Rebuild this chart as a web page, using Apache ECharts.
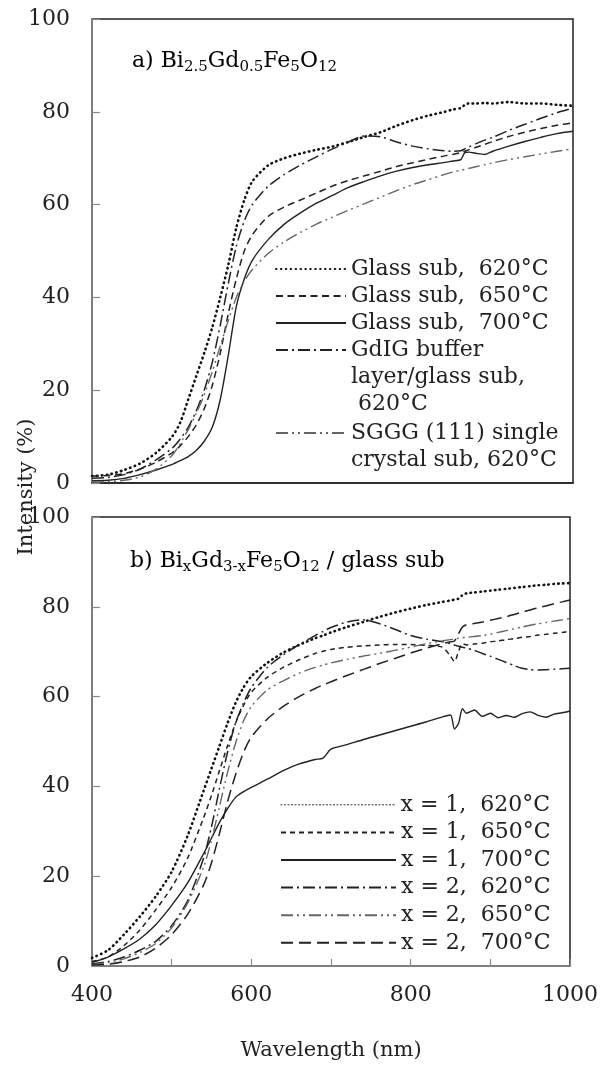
<!DOCTYPE html>
<html>
<head>
<meta charset="utf-8">
<script src="https://cdn.jsdelivr.net/npm/echarts@6/dist/echarts.min.js"></script>
<style>
html,body{margin:0;padding:0;background:#fff;}
#chart{width:601px;height:1071px;}
</style>
</head>
<body>
<div id="chart"></div>
<script>
// ---------- Data (panel a) ----------
const wlA = [400,420,440,460,480,500,510,520,530,540,550,560,570,580,590,600,620,640,660,680,700,720,740,760,780,800,820,840,850,860,865,870,880,890,900,920,940,960,980,1000];
const glass620 = [1.5,1.8,2.8,4.2,6.5,10,13,18,23,28,33.5,40,47,55,61,65,68.5,70,71,71.8,72.5,73.5,74.6,75.6,77,78.2,79.2,80,80.5,80.8,81.5,81.8,81.8,81.9,81.8,82.1,81.8,81.8,81.5,81.3];
const glass650 = [1.5,1.6,2,3,4.5,6.5,8,10,12.5,16,21,28,36.5,44,50,53.5,57.5,59.5,61,62.5,64,65.2,66.2,67.2,68.2,69,69.8,70.5,70.8,71.2,71.5,71.8,72.4,73,73.6,74.7,75.6,76.4,77.1,77.6];
const glass700 = [0.5,0.6,1,1.8,2.8,4,4.8,5.7,7,9,12,18,27.5,38,44,48,52.5,55.8,58.2,60.3,62,63.7,65,66.2,67.2,68,68.6,69.1,69.4,69.7,71.2,71.3,71,70.8,71.5,72.6,73.6,74.5,75.3,75.8];
const gdigBuffer620 = [1,1.2,1.8,3,5,7.5,9.5,12,15.5,20,26,34,43,51,56.5,60,64,66.5,68.5,70.3,72,73.5,74.8,74.6,73.5,72.6,72,71.6,71.5,71.6,72,72.4,73.2,73.9,74.5,76,77.3,78.6,79.8,80.8];
const sggg620 = [0.2,0.3,0.6,1.3,3,6,8.5,11.5,15,19,24,29.5,35,40,43.5,46,49.5,52,54,55.8,57.3,58.8,60.2,61.6,63,64.3,65.4,66.5,67,67.4,67.6,67.8,68.2,68.6,69,69.7,70.3,70.9,71.5,72];

// ---------- Data (panel b) ----------
const wlB = [400,420,440,460,480,500,520,540,550,560,570,580,590,600,620,640,660,680,690,700,720,740,760,780,800,820,840,850,855,860,865,870,880,890,900,910,920,930,940,950,960,970,980,990,1000];
const x1_620 = [1.8,3.5,7,11,15.5,21,29,39,44,49,54,58.5,62,64.5,67.5,69.8,71.5,73,73.6,74.3,75.5,76.6,77.7,78.7,79.6,80.4,81.1,81.4,81.6,81.8,82.6,83,83.2,83.4,83.6,83.8,84,84.2,84.4,84.6,84.8,84.9,85.1,85.2,85.3];
const x1_650 = [1,2,4.5,8,12.5,17.5,24,33,38,43.5,49,54,58,61,64.3,66.5,68.2,69.6,70.1,70.5,71,71.3,71.5,71.6,71.6,71.4,71,69,67.8,70,71.8,71.5,71.7,71.9,72.2,72.4,72.7,72.9,73.2,73.4,73.7,73.9,74.1,74.3,74.5];
const x1_700 = [0.8,2,3.8,6,9.2,13.5,18.5,25,28.5,32,35,37.5,38.8,39.8,41.6,43.5,45,46,46.3,48.3,49.3,50.4,51.4,52.4,53.4,54.4,55.5,55.9,52.8,54,57.3,56.3,57,55.6,56.3,55.3,55.8,55.4,56.2,56.6,55.8,55.4,56.1,56.4,56.8];
const x2_620 = [0.5,1,2,3.5,5.5,9,14.5,24,31,39.5,47.5,54,58.5,62,66.5,69.3,71.6,73.6,74.5,75.4,76.6,77.1,76.3,75,73.6,72.8,72.2,71.8,71.5,71.2,71,70.8,70.3,69.6,69,68.3,67.6,66.9,66.3,66,65.9,66,66.1,66.2,66.3];
const x2_650 = [0.3,0.8,1.6,3,5,8.5,14,22,28,35.5,43,49.5,54.5,57.8,61.5,63.5,65.2,66.5,67,67.5,68.3,69,69.6,70.3,71,71.8,72.4,72.7,72.8,73,73.1,73.2,73.4,73.6,73.9,74.3,74.7,75.1,75.5,75.9,76.2,76.5,76.8,77.1,77.4];
const x2_700 = [0.2,0.4,1,2,4,7,11.5,18,23,29.5,36.5,42.5,47.5,51,55,57.8,60,61.8,62.6,63.3,64.7,66,67.3,68.5,69.7,70.8,71.8,72.2,72.4,74,75.5,76,76.3,76.6,77,77.4,77.8,78.3,78.8,79.3,79.8,80.2,80.7,81.1,81.5];

// ---------- Labels ----------
const namesA = ['Glass sub,  620°C','Glass sub,  650°C','Glass sub,  700°C','GdIG buffer\nlayer/glass sub,\n 620°C','SGGG (111) single\ncrystal sub, 620°C'];
const namesB = ['x = 1,  620°C','x = 1,  650°C','x = 1,  700°C','x = 2,  620°C','x = 2,  650°C','x = 2,  700°C'];
const yTicks = [0,20,40,60,80,100];
const xTickLabels = [400,600,800,1000];

const FONT = 'DejaVu Serif';
const TXT = '#222';

function pairs(xs, ys){ return xs.map((x,i)=>[x, ys[i]]); }

const styleDot = {color:'#111', width:2.6, type:[0.5,4.4], cap:'round'};
const styleDash = {color:'#222', width:1.5, type:[7,4.5]};
const styleShortDash = {color:'#222', width:1.5, type:[5,4]};
const styleSolid = {color:'#222', width:1.4, type:'solid'};
const styleDashDot = {color:'#222', width:1.5, type:[12,4,2,4]};
const styleDashDotDot = {color:'#666', width:1.4, type:[12,4,2,4,2,4]};
const styleLongDash = {color:'#222', width:1.5, type:[12,6]};

function mk(name, xs, ys, ls, gi){
  return {name, type:'line', xAxisIndex:gi, yAxisIndex:gi, data:pairs(xs,ys), symbol:'none', showSymbol:false,
    smooth:0.25, lineStyle:ls, itemStyle:{color:ls.color}, animation:false, z: 3};
}

const series = [
  mk(namesA[0], wlA, glass620, styleDot, 0),
  mk(namesA[1], wlA, glass650, styleDash, 0),
  mk(namesA[2], wlA, glass700, styleSolid, 0),
  mk(namesA[3], wlA, gdigBuffer620, styleDashDot, 0),
  mk(namesA[4], wlA, sggg620, styleDashDotDot, 0),
  mk(namesB[0], wlB, x1_620, styleDot, 1),
  mk(namesB[1], wlB, x1_650, styleShortDash, 1),
  mk(namesB[2], wlB, x1_700, styleSolid, 1),
  mk(namesB[3], wlB, x2_620, styleDashDot, 1),
  mk(namesB[4], wlB, x2_650, styleDashDotDot, 1),
  mk(namesB[5], wlB, x2_700, styleLongDash, 1)
];

const legendText = {fontFamily:FONT, fontSize:22, color:TXT, lineHeight:27};
const hideSym = {color:'rgba(0,0,0,0)', borderColor:'rgba(0,0,0,0)', borderWidth:0, opacity:0};
function legend(data, left, top, w, extra){
  return Object.assign({data, left, top, orient:'vertical', itemWidth:w, itemHeight:14, itemGap:0, padding:0,
    selectedMode:false, textStyle:Object.assign({}, legendText), itemStyle:hideSym}, extra||{});
}

function yAxis(gi){
  return {gridIndex:gi, type:'value', min:0, max:100, interval:20,
    axisLine:{show:true, lineStyle:{color:'#8a8a8a', width:1.5}},
    axisTick:{show:true, inside:true, length:8, lineStyle:{color:'#8a8a8a', width:1.2}},
    axisLabel:{fontFamily:FONT, fontSize:22, color:TXT, margin:22},
    splitLine:{show:false}};
}

const option = {
  backgroundColor:'#fff',
  animation:false,
  grid:[
    {left:92, right:28, top:19, height:464, show:true, borderColor:'#222', borderWidth:1.5, backgroundColor:'transparent'},
    {left:92, right:28, top:517, height:449, show:true, borderColor:'#222', borderWidth:1.5, backgroundColor:'transparent'}
  ],
  xAxis:[
    {gridIndex:0, type:'value', min:400, max:1000, interval:100,
      axisLine:{show:true, lineStyle:{color:'#222', width:1.5}}, axisTick:{show:false}, axisLabel:{show:false}, splitLine:{show:false}},
    {gridIndex:1, type:'value', min:400, max:1000, interval:100,
      axisLine:{show:true, lineStyle:{color:'#8a8a8a', width:1.5}},
      axisTick:{show:true, inside:true, length:7, lineStyle:{color:'#8a8a8a', width:1.2}},
      axisLabel:{fontFamily:FONT, fontSize:22, color:TXT, margin:18, formatter:v=>xTickLabels.indexOf(v)>=0?String(v):''},
      splitLine:{show:false},
      name:'Wavelength (nm)', nameLocation:'middle', nameGap:74,
      nameTextStyle:{fontFamily:FONT, fontSize:21, color:TXT}}
  ],
  yAxis:[yAxis(0), yAxis(1)],
  legend:[
    legend(namesA.slice(0,3), 275, 255.5, 70),
    legend([namesA[3]], 275, 282.5, 70, {formatter:n=>'\n\n'+n}),
    legend([namesA[4]], 275, 392.5, 70, {formatter:n=>'\n'+n}),
    legend([namesB[0]], 280, 791, 115, {lineStyle:{width:1, type:[2,1.5], color:'#333', cap:'butt'}, textStyle:Object.assign({}, legendText, {lineHeight:27.6})}),
    legend(namesB.slice(1), 280, 818.6, 115, {textStyle:Object.assign({}, legendText, {lineHeight:27.6})})
  ],
  graphic:[
    {type:'text', left:132, top:48, z:10, style:{
      text:'{n|a) Bi}{s|2.5}{n|Gd}{s|0.5}{n|Fe}{s|5}{n|O}{s|12}',
      rich:{n:{fontFamily:FONT, fontSize:22, color:TXT, lineHeight:30},
            s:{fontFamily:FONT, fontSize:15, color:TXT, padding:[12,0,0,0], lineHeight:18}}}},
    {type:'text', left:130, top:548, z:10, style:{
      text:'{n|b) Bi}{s|x}{n|Gd}{s|3-x}{n|Fe}{s|5}{n|O}{s|12}{n| / glass sub}',
      rich:{n:{fontFamily:FONT, fontSize:22, color:TXT, lineHeight:30},
            s:{fontFamily:FONT, fontSize:15, color:TXT, padding:[12,0,0,0], lineHeight:18}}}},
    {type:'text', x:27, y:487, rotation:Math.PI/2, z:10, style:{
      text:'Intensity (%)', fontFamily:FONT, fontSize:21, fill:TXT, align:'center', verticalAlign:'middle'}}
  ],
  series
};

const chart = echarts.init(document.getElementById('chart'), null, {renderer:'canvas'});
chart.setOption(option);
</script>
</body>
</html>
